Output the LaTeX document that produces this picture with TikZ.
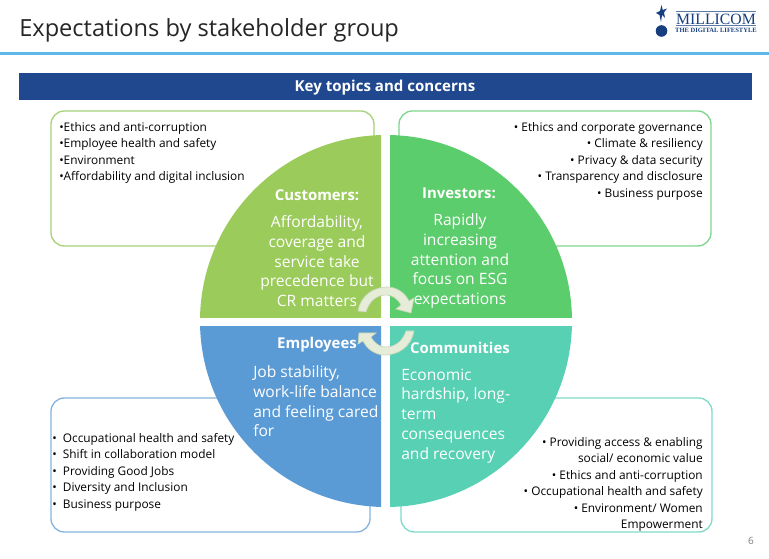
\documentclass[tikz,border=0pt]{standalone}
\usepackage{fontspec}
\setmainfont{Open Sans}
\newfontfamily\logofont{Liberation Serif}
\usetikzlibrary{arrows.meta}
\definecolor{bar}{HTML}{20488F}
\definecolor{rule}{HTML}{5BB8E8}
\definecolor{qa}{HTML}{9BCB5A}
\definecolor{qb}{HTML}{5CCD6C}
\definecolor{qc}{HTML}{5B9BD5}
\definecolor{qd}{HTML}{58D0B4}
\definecolor{ba}{HTML}{A5D27A}
\definecolor{bb}{HTML}{80D68E}
\definecolor{bc}{HTML}{85B4DF}
\definecolor{bd}{HTML}{7FDCC8}
\definecolor{arr}{HTML}{E5ECD8}
\definecolor{arre}{HTML}{C9D6B8}
\definecolor{logo}{HTML}{173F7F}
\tikzset{
 x=0.75pt,y=-0.75pt,
 frame/.style={draw,line width=1pt,rounded corners=10pt,fill=white},
 listL/.style={anchor=north west,align=left,inner sep=0pt,font=\fontsize{8.9}{12.4}\selectfont,text=black},
 listR/.style={anchor=north east,align=right,inner sep=0pt,font=\fontsize{8.9}{12.4}\selectfont,text=black},
 head/.style={anchor=center,inner sep=0pt,font=\fontsize{11.2}{13}\selectfont\bfseries,text=white},
 body/.style={anchor=north,align=center,inner sep=0pt,font=\fontsize{11.7}{14.8}\selectfont,text=white},
 bodyL/.style={body,anchor=north west,align=left},
 swoosh/.style={draw=arre,line width=0.5pt,fill=arr},
}
\begin{document}
\begin{tikzpicture}
\useasboundingbox (0,0) rectangle (769,559);
\fill[white] (0,0) rectangle (769,559);
\node[anchor=west,inner sep=0pt,font=\fontsize{17.7}{20}\selectfont,text=black!85] (title) at (19,30.5) {Expectations by stakeholder group};
\fill[rule] (0,52) rectangle (769,55);
\fill[bar] (19,73) rectangle (752,100);
\node[font=\fontsize{11.3}{13}\selectfont\bfseries,text=white,inner sep=0pt] (bar) at (385,87.5) {Key topics and concerns};
% logo
\fill[logo] (661.5,5) -- (662.8,10) -- (667,8.5) -- (664,12.5) -- (665,18) -- (662,15) -- (661,22) -- (659.5,15) -- (656,13) -- (660,11) -- cycle;
\fill[logo] (661.5,31) circle (5.8);
\fill[logo!70] (676,11.5) rectangle (756,12);
\fill[logo!70] (676,25) rectangle (756,25.5);
\node[inner sep=0pt,font=\logofont\fontsize{11.8}{12}\selectfont,text=logo] (logoa) at (716,19.5) {MILLICOM};
\node[inner sep=0pt,font=\logofont\bfseries\fontsize{4.9}{6}\selectfont,text=logo] (logob) at (716,30.5) {THE DIGITAL LIFESTYLE};
% frames
\draw[frame,draw=ba] (51,111) rectangle (374,246);
\draw[frame,draw=bb] (399,111) rectangle (711,246);
\draw[frame,draw=bc] (51,398) rectangle (370,532);
\draw[frame,draw=bd] (401,398) rectangle (712,532);
% quadrants
\begin{scope}\clip (190,125) rectangle (381,318);\fill[qa] (386,321) circle (186);\end{scope}
\begin{scope}\clip (390,125) rectangle (580,318);\fill[qb] (386,321) circle (186);\end{scope}
\begin{scope}\clip (190,327) rectangle (381,515);\fill[qc] (386,321) circle (186);\end{scope}
\begin{scope}\clip (390,327) rectangle (580,515);\fill[qd] (386,321) circle (186);\end{scope}
% lists
\node[listL] (ta) at (59,122) {•Ethics and anti-corruption\\•Employee health and safety\\•Environment\\•Affordability and digital inclusion};
\node[listR] (tb) at (703,122) {• Ethics and corporate governance\\• Climate \& resiliency\\• Privacy \& data security\\• Transparency and disclosure\\• Business purpose};
\node[listL] (tc) at (52,433) {•\ \ Occupational health and safety\\•\ \ Shift in collaboration model\\•\ \ Providing Good Jobs\\•\ \ Diversity and Inclusion\\•\ \ Business purpose};
\node[listR] (td) at (703,437) {• Providing access \& enabling\\social/ economic value\\• Ethics and anti-corruption\\• Occupational health and safety\\• Environment/ Women\\Empowerment};
% quadrant text
\node[head] (ha) at (317,195) {Customers:};
\node[body] (ba1) at (317,215.5) {Affordability,\\coverage and\\service take\\precedence but\\CR matters};
\node[head] (hb) at (459,193) {Investors:};
\node[body] (bb1) at (460,213.5) {Rapidly\\increasing\\attention and\\focus on ESG\\expectations};
\node[head] (hc) at (317,345) {Employees};
\node[bodyL] (bc1) at (253,365.5) {Job stability,\\work-life balance\\and feeling cared\\for};
\node[head] (hd) at (460,348) {Communities};
\node[bodyL] (bd1) at (401,368.5) {Economic\\hardship, long-\\term\\consequences\\and recovery};
% swooshes
\draw[swoosh] (358,311) .. controls (361,294) and (375,287) .. (387,287) .. controls (397,287) and (405,293) .. (409,301) -- (414,298) -- (411,313) -- (396,309) -- (401,305) .. controls (397,298) and (392,295) .. (386,295) .. controls (376,295) and (369,302) .. (366,312) -- cycle;
\draw[swoosh] (414,331) .. controls (411,348) and (397,355) .. (385,355) .. controls (375,355) and (367,349) .. (363,341) -- (358,344) -- (359,333) -- (376,333) -- (371,337) .. controls (375,344) and (380,347) .. (386,347) .. controls (396,347) and (403,340) .. (406,331) -- cycle;
% page number
\node[inner sep=0pt,font=\fontsize{7.5}{9}\selectfont,text=black!50] (pg) at (751,541) {6};
\end{tikzpicture}
\end{document}
